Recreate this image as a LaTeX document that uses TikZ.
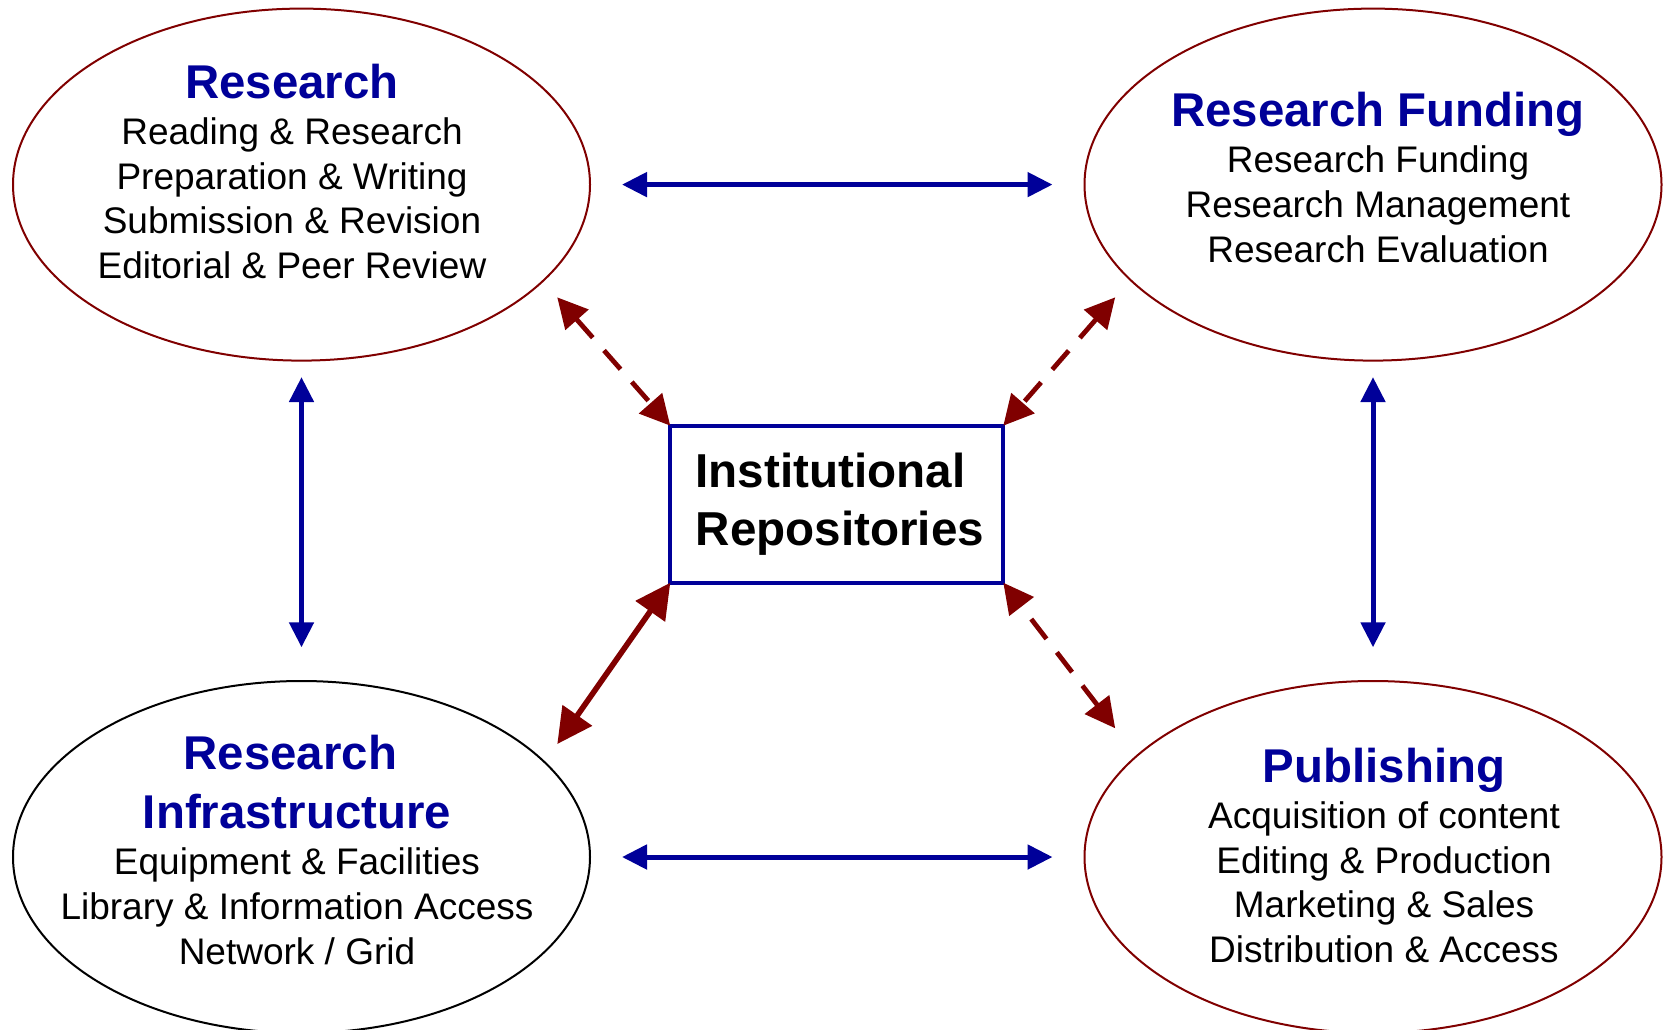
\documentclass[tikz,border=0pt]{standalone}
\usepackage{fontspec}
\setmainfont{Liberation Sans}
\usetikzlibrary{arrows.meta,shapes.geometric}
\definecolor{navy}{RGB}{0,0,153}
\definecolor{maroon}{RGB}{128,0,0}
\newcommand\hd[1]{{\color{navy}\bfseries\fontsize{23.7pt}{22.35pt}\selectfont #1}}
\begin{document}
\begin{tikzpicture}[x=0.5pt,y=-0.5pt,
  bubble/.style={ellipse,draw=maroon,line width=1pt,minimum width=288.5pt,minimum height=176pt,inner sep=0pt,outer sep=0pt},
  bubtext/.style={anchor=north,align=center,inner sep=0pt,font=\fontsize{18.5pt}{22.35pt}\selectfont},
  repobox/.style={draw=navy,line width=1.9pt,minimum width=166.5pt,minimum height=78.5pt,inner sep=0pt,outer sep=0pt,align=left,font=\fontsize{23.8pt}{28.7pt}\selectfont\bfseries},
  bluelink/.style={navy,line width=2.5pt,arrows={Triangle[length=12.5pt,width=12pt]-Triangle[length=12.5pt,width=12pt]}},
  dashlink/.style={maroon,line width=2.4pt,dash pattern=on 12.5pt off 8.5pt,arrows={Triangle[length=15pt,width=15pt]-Triangle[length=15pt,width=15pt]}},
  solidlink/.style={maroon,line width=2.8pt,arrows={Triangle[length=17.5pt,width=17.5pt]-Triangle[length=17.5pt,width=17.5pt]}}]
\useasboundingbox (0,0) rectangle (1664,1029);

% the four areas
\node[bubble] (res) at (301.5,184.6) {};
\node[bubble] (fund) at (1373,184.6) {};
\node[bubble,draw=black] (infra) at (301.5,857) {};
\node[bubble] (pub) at (1373,857) {};

\node[bubtext] (restext) at (292,63.3) {\hd{Research}\\[0.9pt]
  Reading \& Research\\Preparation \& Writing\\Submission \& Revision\\Editorial \& Peer Review};
\node[bubtext] (fundtext) at (1378,91.7) {\hd{Research Funding}\\[0.9pt]
  Research Funding\\Research Management\\Research Evaluation};
\node[bubtext] (infratext) at (297,735) {\hd{Research\hspace{6.6pt}}\\[6.85pt]\hd{Infrastructure}\\[0.9pt]
  Equipment \& Facilities\\Library \& Information Access\\Network / Grid};
\node[bubtext] (pubtext) at (1384,747.3) {\hd{Publishing}\\[0.9pt]
  Acquisition of content\\Editing \& Production\\Marketing \& Sales\\Distribution \& Access};

% centre
\node[repobox] (repo) at (836.8,504.2) {\hspace{3pt}Institutional\\\hspace{3pt}Repositories};

% links between the areas
\draw[bluelink,shorten <=16pt,shorten >=16pt] (res.east) -- (fund.west);
\draw[bluelink,shorten <=16pt,shorten >=16pt] (infra.east) -- (pub.west);
\draw[bluelink,shorten <=8.25pt,shorten >=16.85pt] (res.south) -- (infra.north);
\draw[bluelink,shorten <=8.25pt,shorten >=16.85pt] (fund.south) -- (pub.north);

% links to the repositories
\coordinate (resend) at (557.2,297.3);
\coordinate (fundend) at (1115.2,297.3);
\coordinate (pubend) at (1115.2,728.3);
\coordinate (infraend) at (557.3,744);
\draw[dashlink] (resend) -- (repo.north west);
\draw[dashlink] (fundend) -- (repo.north east);
\draw[dashlink] (pubend) -- (repo.south east);
\draw[solidlink] (infraend) -- (repo.south west);
\end{tikzpicture}
\end{document}
